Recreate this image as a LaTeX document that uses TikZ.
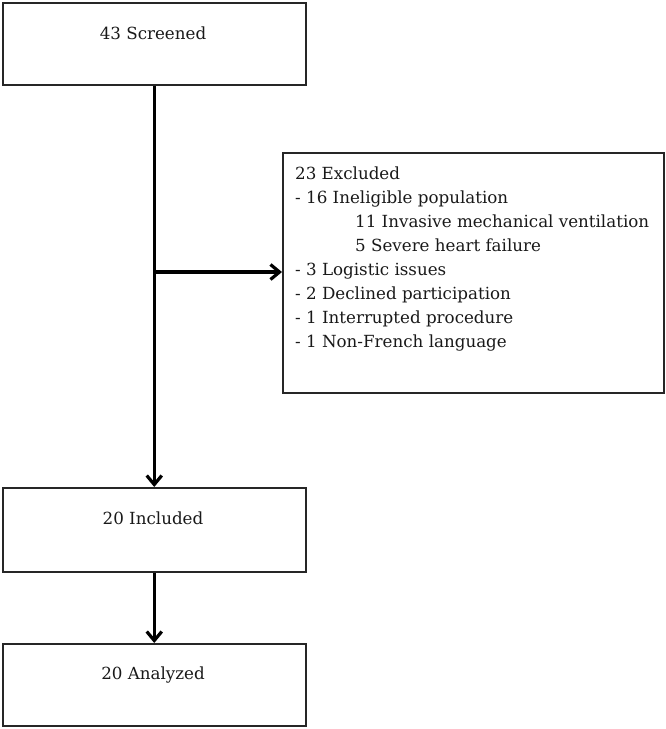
\documentclass[tikz,border=0pt]{standalone}
\usepackage{fontspec}
\setmainfont{DejaVu Serif}
\usetikzlibrary{arrows.meta}
\begin{document}
\begin{tikzpicture}[x=1pt,y=-1pt,
  box/.style={draw=black!85,line width=1.5pt,rectangle,inner sep=0pt,anchor=north west},
  lbl/.style={font=\fontsize{16.7}{24}\selectfont,inner sep=0pt,text=black!90},
  arr/.style={line width=3.2pt,-{Straight Barb[length=9pt,width=15pt]}}]
\useasboundingbox (0,0) rectangle (666,729);
\node[box,minimum width=303pt,minimum height=82pt] (screened) at (2,2) {};
\node[lbl] (t1) at (153,33) {43 Screened};
\node[box,minimum width=381pt,minimum height=240pt] (excl) at (282,152) {};
\node[lbl,anchor=north west,align=left] (t2) at (295,167) {23 Excluded\\
- 16 Ineligible population\\
\hspace*{60pt}11 Invasive mechanical ventilation\\
\hspace*{60pt}5 Severe heart failure\\
- 3 Logistic issues\\
- 2 Declined participation\\
- 1 Interrupted procedure\\
- 1 Non-French language};
\node[box,minimum width=303pt,minimum height=84pt] (incl) at (2,487) {};
\node[lbl] (t3) at (153,518) {20 Included};
\node[box,minimum width=303pt,minimum height=82pt] (anal) at (2,643) {};
\node[lbl] (t4) at (153,675) {20 Analyzed};
\coordinate (split) at (screened.south |- 0,272);
\draw[arr] (screened.south) -- (incl.north);
\draw[arr] (split) -- (excl.west |- split);
\draw[arr] (incl.south) -- (anal.north);
\end{tikzpicture}
\end{document}
